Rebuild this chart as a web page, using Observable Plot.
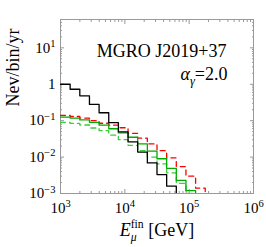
<!DOCTYPE html>
<html><head>
<meta charset="utf-8">
<script src="https://cdn.jsdelivr.net/npm/d3@7"></script>
<script src="https://cdn.jsdelivr.net/npm/@observablehq/plot@0.6"></script>
<style>body{margin:0;background:#fff}</style>
</head><body><div id="c"></div>
<script>
// bin edges (log10 of E in GeV)
const logEdges = [3.00, 3.15, 3.30, 3.45, 3.60, 3.75, 3.90, 4.05, 4.20, 4.35, 4.50, 4.65, 4.80, 4.95, 5.10, 5.25];
const black = [1.0, 0.73, 0.48, 0.28, 0.165, 0.088, 0.049, 0.026, 0.0137, 0.0069, 0.0033, 0.0016];
const greenSolid = [0.125, 0.118, 0.105, 0.09, 0.075, 0.06, 0.046, 0.035, 0.023, 0.0145, 0.009, 0.0049, 0.0023, 0.0012];
const greenDashed = [0.09, 0.084, 0.076, 0.063, 0.053, 0.04, 0.03, 0.021, 0.015, 0.01, 0.0065, 0.0037, 0.0019, 0.001];
const redDashed = [0.14, 0.13, 0.118, 0.1, 0.085, 0.075, 0.064, 0.045, 0.033, 0.023, 0.015, 0.0095, 0.0055, 0.003, 0.0014];
const xMajor = [1e3, 1e4, 1e5, 1e6];
const yMajor = [1e-3, 1e-2, 1e-1, 1, 10];
const mult = [2, 3, 4, 5, 6, 7, 8, 9];
const xMinor = [1e3, 1e4, 1e5].flatMap(d => mult.map(m => m * d));
const yMinor = [1e-3, 1e-2, 1e-1, 1, 10].flatMap(d => mult.map(m => m * d)).filter(v => v <= 60);
const sourceLabel = "MGRO J2019+37";
const indexLabel = "α_γ=2.0";
const xLabel = "E_μ^fin [GeV]";
const yLabel = "Nev/bin/yr";

function steps(vals) {
  const rows = vals.map((v, i) => ({x: 10 ** logEdges[i], y: v}));
  const n = vals.length;
  rows.push({x: 10 ** logEdges[n], y: vals[n - 1]});
  rows.push({x: 10 ** logEdges[n], y: 1e-6});
  return rows;
}
const pow = d => "10^" + Math.round(Math.log10(d));
const frameColor = "#999";
const fs = 15;

const chart = Plot.plot({
  width: 266, height: 247,
  marginLeft: 60, marginRight: 13, marginTop: 19, marginBottom: 54,
  style: {fontFamily: "'Liberation Serif', serif", fontSize: fs + "px", color: "#000", background: "#fff"},
  x: {type: "log", domain: [1e3, 1e6]},
  y: {type: "log", domain: [1e-3, 60]},
  marks: [
    Plot.frame({stroke: frameColor}),
    // minor ticks (inward) on all sides
    Plot.axisX(xMinor, {anchor: "bottom", tickSize: -2, tickFormat: () => "", stroke: frameColor, label: null}),
    Plot.axisX(xMinor, {anchor: "top", tickSize: -2, tickFormat: () => "", stroke: frameColor, label: null}),
    Plot.axisY(yMinor, {anchor: "left", tickSize: -2, tickFormat: () => "", stroke: frameColor, label: null}),
    Plot.axisY(yMinor, {anchor: "right", tickSize: -2, tickFormat: () => "", stroke: frameColor, label: null}),
    // major ticks
    Plot.axisX(xMajor, {anchor: "bottom", tickSize: -4, tickFormat: () => "", stroke: frameColor, label: null}),
    Plot.axisX(xMajor, {anchor: "top", tickSize: -4, tickFormat: () => "", stroke: frameColor, label: null}),
    Plot.axisY(yMajor, {anchor: "left", tickSize: -4, tickFormat: () => "", stroke: frameColor, label: null}),
    Plot.axisY(yMajor, {anchor: "right", tickSize: -4, tickFormat: () => "", stroke: frameColor, label: null}),
    // labels
    Plot.axisX(xMajor, {anchor: "bottom", tickSize: 0, tickPadding: 9, tickFormat: pow, fontSize: fs, fill: "#000", label: null}),
    Plot.axisY(yMajor, {anchor: "left", tickSize: 0, tickPadding: 5, tickFormat: d => d === 1 ? "1" : pow(d), fontSize: fs, fill: "#000", label: null}),
    Plot.text([yLabel], {frameAnchor: "left", rotate: -90, dx: -47, text: d => d, fontSize: 18, fill: "#000"}),
    Plot.text([xLabel], {frameAnchor: "bottom", dy: 42, text: d => d, fontSize: 18, fill: "#000"}),
    Plot.text([sourceLabel], {frameAnchor: "top-right", dx: -27, dy: 25, text: d => d, textAnchor: "end", fontSize: 18, fill: "#000"}),
    Plot.text([indexLabel], {frameAnchor: "top-right", dx: -26, dy: 48, text: d => d, textAnchor: "end", fontSize: 18, fill: "#000"}),
    // histograms
    Plot.line(steps(greenDashed), {x: "x", y: "y", curve: "step-after", stroke: "#3ccc3c", strokeWidth: 1.3, strokeDasharray: "5,4", clip: true}),
    Plot.line(steps(redDashed), {x: "x", y: "y", curve: "step-after", stroke: "#f00", strokeWidth: 1.3, strokeDasharray: "5,4", clip: true}),
    Plot.line(steps(greenSolid), {x: "x", y: "y", curve: "step-after", stroke: "#0a0", strokeWidth: 1.3, clip: true}),
    Plot.line(steps(black), {x: "x", y: "y", curve: "step-after", stroke: "#000", strokeWidth: 1.3, clip: true})
  ]
});
document.getElementById("c").appendChild(chart);

// rich text: superscripts / subscripts
const NS = "http://www.w3.org/2000/svg";
function ts(parent, txt, attrs) {
  const t = document.createElementNS(NS, "tspan");
  for (const k in attrs) t.setAttribute(k, attrs[k]);
  t.textContent = txt;
  parent.appendChild(t);
  return t;
}
chart.querySelectorAll("text").forEach(el => {
  const s = el.textContent;
  let m;
  if ((m = s.match(/^10\^(-?\d+)$/))) {
    el.textContent = "10";
    ts(el, m[1].replace("-", "−"), {"font-size": "70%", dy: "-0.55em"});
  } else if (s === xLabel) {
    el.textContent = "";
    ts(el, "E", {"font-style": "italic"});
    ts(el, "μ", {"font-style": "italic", "font-size": "65%", dy: "5"});
    ts(el, "fin", {"font-size": "65%", dx: "-6", dy: "-13"});
    ts(el, " [GeV]", {dy: "8"});
  } else if (s === indexLabel) {
    el.textContent = "";
    ts(el, "α", {"font-style": "italic"});
    ts(el, "γ", {"font-style": "italic", "font-size": "70%", dy: "0.35em"});
    ts(el, "=2.0", {dy: "-0.25em"});
  }
});
</script>
</body></html>
